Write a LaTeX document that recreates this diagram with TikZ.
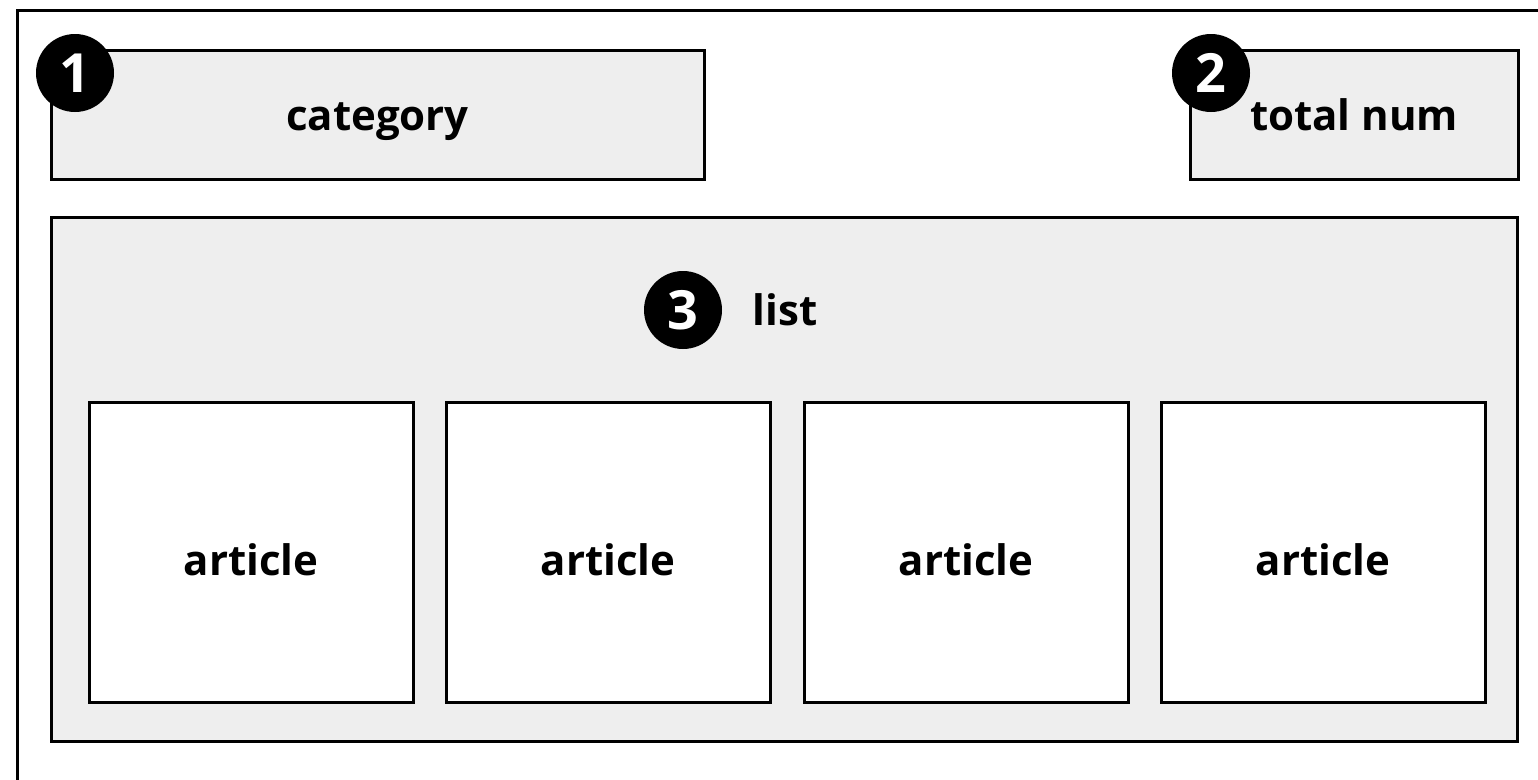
\documentclass[tikz,border=0pt]{standalone}
\usepackage{fontspec}
\setmainfont{Open Sans}
\definecolor{panel}{HTML}{EEEEEE}

\begin{document}
\begin{tikzpicture}[x=1pt, y=-1pt,
    box/.style={draw, line width=3pt, fill=panel, inner sep=0pt,
      text height=31pt, text depth=0pt,
      font=\bfseries\fontsize{42}{46}\selectfont},
    card/.style={box, fill=white, minimum width=324pt, minimum height=300pt,
      text height=46pt},
    badge/.style={circle, fill=black, minimum size=78pt, inner sep=0pt,
      text=white, font=\bfseries\fontsize{54}{56}\selectfont}]
  \clip (0,0) rectangle (1538,779);
  \draw [line width=3pt] (17,10) rectangle (1580,820);

  % top row
  \node [box, minimum width=653pt, minimum height=129pt] (category) at (377.5,114.5) {category};
  \node [box, minimum width=328pt, minimum height=129pt] (total) at (1354,114.5) {total num};

  % list panel with its articles
  \node [box, minimum width=1466pt, minimum height=524pt] (list) at (784,479) {};
  \node [anchor=base, font=\bfseries\fontsize{42}{46}\selectfont] (listname) at (785,325) {list};
  \foreach \i/\x in {1/251, 2/608, 3/966, 4/1323}
    \node [card] (article\i) at (\x,552) {article};

  % numbered badges
  \node [badge] (badge1) at (75,73) {1};
  \node [badge] (badge2) at (1211,73) {2};
  \node [badge] (badge3) at (683,310) {3};
\end{tikzpicture}
\end{document}
